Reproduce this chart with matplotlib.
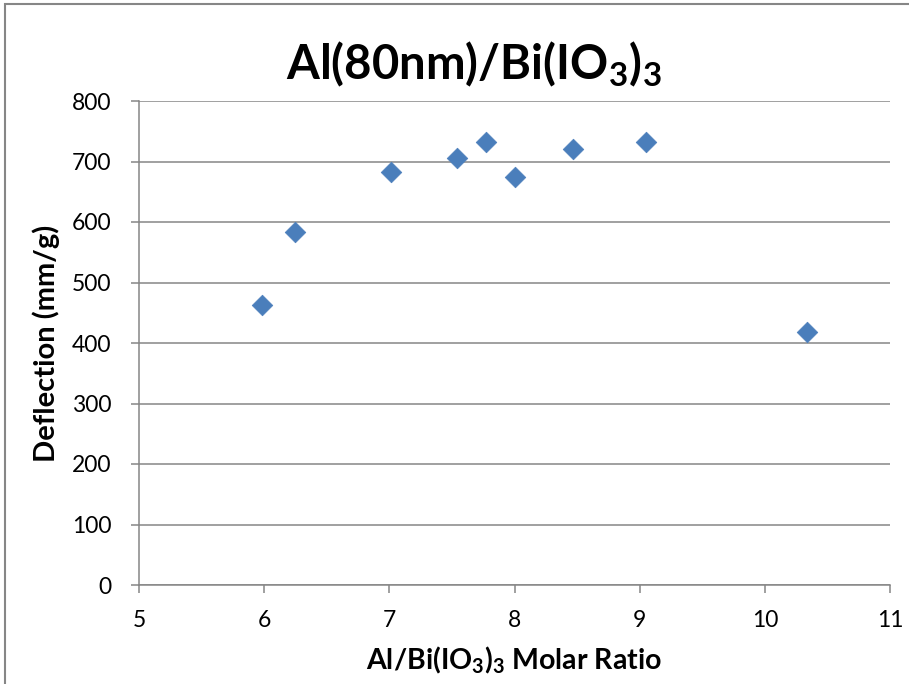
import matplotlib
matplotlib.use("Agg")
import matplotlib.pyplot as plt
from matplotlib.patches import Rectangle

# Data
molar_ratio = [5.98, 6.25, 7.01, 7.54, 7.77, 8.00, 8.47, 9.05, 10.34]
deflection = [463, 583, 683, 706, 732, 675, 720, 732, 418]
x_ticks = [5, 6, 7, 8, 9, 10, 11]
y_ticks = [0, 100, 200, 300, 400, 500, 600, 700, 800]

plt.rcParams['font.family'] = ['Lato', 'DejaVu Sans']
plt.rcParams['mathtext.fontset'] = 'custom'
plt.rcParams['mathtext.rm'] = 'Lato:bold'
plt.rcParams['mathtext.it'] = 'Lato:bold'
plt.rcParams['mathtext.bf'] = 'Lato:bold'
plt.rcParams['mathtext.default'] = 'rm'

fig = plt.figure(figsize=(9.09, 6.84), dpi=100)
ax = fig.add_axes([139/909, 1-585/684, (890-139)/909, (585-101)/684])

grid_c = '#868686'
ax.scatter(molar_ratio, deflection, marker='D', s=10.5**2, color='#4A7EBB',
           edgecolors='#4A7EBB', linewidths=0.5, zorder=3)

ax.set_xlim(5, 11)
ax.set_ylim(0, 800)
ax.set_xticks(x_ticks)
ax.set_yticks(y_ticks)
ax.set_xticklabels([str(v) for v in x_ticks])
ax.set_yticklabels([str(v) for v in y_ticks])
ax.yaxis.grid(True, color=grid_c, linewidth=1.1)
ax.set_axisbelow(True)
for s in ['top', 'right']:
    ax.spines[s].set_visible(False)
for s in ['left', 'bottom']:
    ax.spines[s].set_color(grid_c)
    ax.spines[s].set_linewidth(1.1)
ax.tick_params(axis='both', colors=grid_c, length=6, width=1.1, labelsize=16.5,
               labelcolor='black', direction='out')
ax.tick_params(axis='x', pad=12)
ax.tick_params(axis='y', pad=14)

ax.set_xlabel(r'Al/Bi(IO$_{3}$)$_{3}$ Molar Ratio',
              fontsize=20.5, fontweight='bold', labelpad=10)
ax.set_ylabel('Deflection (mm/g)', fontsize=21, fontweight='bold', labelpad=8)

fig.text(474/909, 1-64/684,
         r'Al(80nm)/Bi(IO$_{3}$)$_{3}$',
         ha='center', va='center', fontsize=34, fontweight='bold')

# outer chart frame
fig.patches.append(Rectangle((5/909, -0.1), 1.2, (684-4)/684 + 0.1,
                             transform=fig.transFigure, fill=False,
                             edgecolor=grid_c, linewidth=1.5))

fig.savefig('out.png', dpi=100)
